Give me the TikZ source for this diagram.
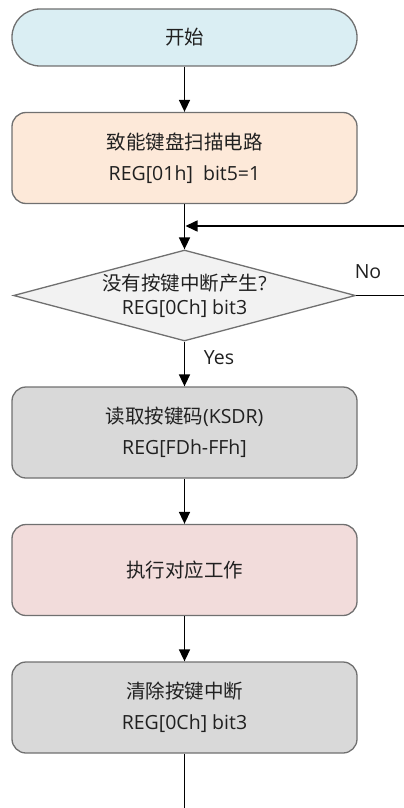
\documentclass[tikz,border=0pt]{standalone}
\usepackage{fontspec}
\setmainfont{Open Sans}
\newfontfamily\cjk{Noto Sans CJK SC}
\usetikzlibrary{shapes.geometric,arrows.meta}
\definecolor{cstart}{HTML}{DAEEF3}
\definecolor{cinit}{HTML}{FDE9D9}
\definecolor{cdec}{HTML}{F2F2F2}
\definecolor{cgray}{HTML}{D9D9D9}
\definecolor{cpink}{HTML}{F2DCDB}
\definecolor{cborder}{HTML}{707070}
\definecolor{ctext}{HTML}{202020}
\begin{document}
\begin{tikzpicture}[x=1pt,y=-1pt,
  box/.style={draw=cborder,line width=1.3pt,rounded corners=14pt,minimum width=345pt,minimum height=91pt,inner sep=0pt,align=center,text=ctext,font=\fontsize{19.5}{31}\selectfont},
  term/.style={box,rounded corners=28pt,minimum height=57pt},
  dec/.style={diamond,draw=cborder,line width=1.3pt,fill=cdec,minimum width=342pt,minimum height=91pt,aspect=3.76,inner sep=0pt},
  dectxt/.style={inner sep=0pt,align=center,text=ctext,font=\fontsize{19.5}{24}\selectfont},
  arr/.style={line width=1.6pt,-{Triangle[width=11pt,length=12pt]}},
  ln/.style={line width=1.6pt},
  lab/.style={text=ctext,font=\fontsize{19.5}{20}\selectfont}]
\useasboundingbox (0,0) rectangle (404,808);
\node[term,fill=cstart] (start) at (184.5,37.5) {{\cjk 开始}};
\node[box,fill=cinit] (init) at (184.5,158) {{\cjk 致能键盘扫描电路}\\REG[01h]\ \ bit5=1};
\node[dec] (dec) at (184.5,295.5) {};
\node[dectxt] (dectext) at (184.5,296) {{\cjk 没有按键中断产生}?\\REG[0Ch] bit3};
\node[box,fill=cgray] (read) at (184.5,432.5) {{\cjk 读取按键码}(KSDR)\\REG[FDh-FFh]};
\node[box,fill=cpink] (work) at (184.5,570) {{\cjk 执行对应工作}};
\node[box,fill=cgray] (clear) at (184.5,707.5) {{\cjk 清除按键中断}\\REG[0Ch] bit3};
\coordinate (fbin) at (404,226);
\coordinate (join) at (185.5,226);
\coordinate (noout) at (404,295.5);
\coordinate (bottom) at (184.5,808);
\draw[arr] (start) -- (init);
\draw[arr] (init) -- (dec);
\draw[arr] (fbin) -- (join);
\draw[ln] (dec.east) -- (noout);
\draw[arr] (dec) -- (read);
\draw[arr] (read) -- (work);
\draw[arr] (work) -- (clear);
\draw[ln] (clear) -- (bottom);
\node[lab] (nolab) at (368,272) {No};
\node[lab] (yeslab) at (219,358) {Yes};
\end{tikzpicture}
\end{document}
